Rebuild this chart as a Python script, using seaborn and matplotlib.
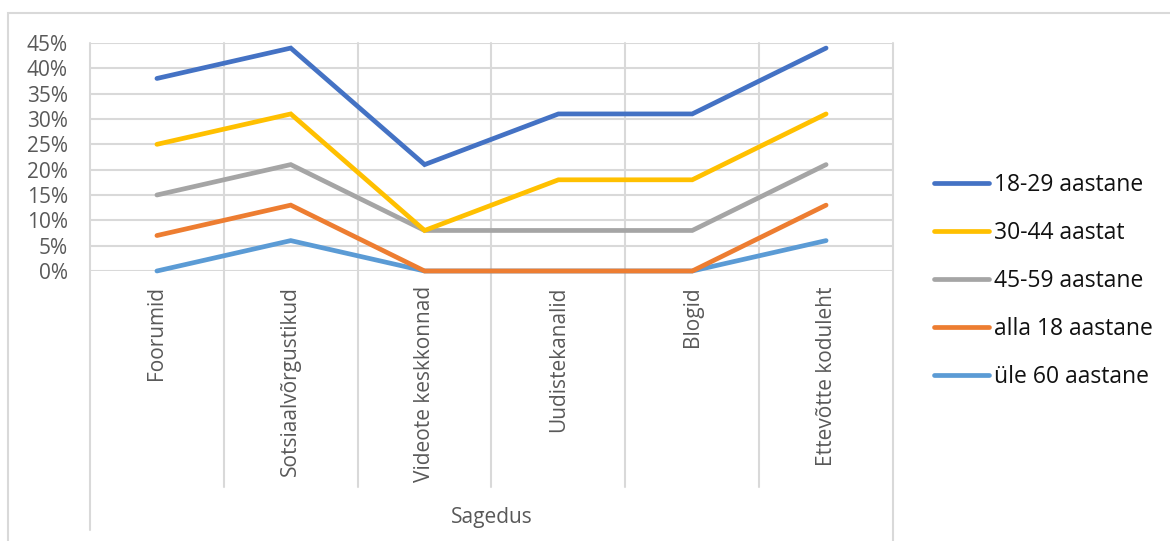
import matplotlib
matplotlib.use("Agg")
import matplotlib.pyplot as plt
import seaborn as sns
import pandas as pd
from matplotlib.patches import Rectangle
from matplotlib.lines import Line2D

categories = ["Foorumid", "Sotsiaalvõrgustikud", "Videote keskkonnad",
              "Uudistekanalid", "Blogid", "Ettevõtte koduleht"]
series_names = ["18-29 aastane", "30-44 aastat", "45-59 aastane",
                "alla 18 aastane", "üle 60 aastane"]
v_18_29 = [0.38, 0.44, 0.21, 0.31, 0.31, 0.44]
v_30_44 = [0.25, 0.31, 0.08, 0.18, 0.18, 0.31]
v_45_59 = [0.15, 0.21, 0.08, 0.08, 0.08, 0.21]
v_alla18 = [0.07, 0.13, 0.00, 0.00, 0.00, 0.13]
v_yle60 = [0.00, 0.06, 0.00, 0.00, 0.00, 0.06]
y_ticks = [0, 0.05, 0.10, 0.15, 0.20, 0.25, 0.30, 0.35, 0.40, 0.45]
y_labels = ["0%", "5%", "10%", "15%", "20%", "25%", "30%", "35%", "40%", "45%"]
colors = ["#4472C4", "#FFC000", "#A5A5A5", "#ED7D31", "#5B9BD5"]
x_title = "Sagedus"

sns.set_theme(style="white")
plt.rcParams["font.family"] = ["Open Sans", "DejaVu Sans"]

rows = []
for name, vals in zip(series_names, [v_18_29, v_30_44, v_45_59, v_alla18, v_yle60]):
    for c, v in zip(categories, vals):
        rows.append({"cat": c, "val": v, "series": name})
df = pd.DataFrame(rows)

W, H = 1170, 541
fig = plt.figure(figsize=(W / 100, H / 100), dpi=100)
fig.patch.set_facecolor("white")
L, R, T, B = 90, 893, 43, 271
ax = fig.add_axes([L / W, (H - B) / H, (R - L) / W, (B - T) / H])

grid_c = "#D9D9D9"
text_c = "#595959"

# outer border
fig.add_artist(Rectangle((8 / W, -0.2), 1.2, 1.2 - 13 / H, transform=fig.transFigure,
                         fill=False, edgecolor=grid_c, lw=1.5))

sns.lineplot(data=df, x="cat", y="val", hue="series", hue_order=series_names,
             palette=colors, sort=False, lw=3.4, ax=ax, legend=False)
for i, ln in enumerate(ax.lines):
    ln.set_clip_on(False)
    ln.set_zorder(10 - i * 0.1)
    ln.set_solid_capstyle("round")
    ln.set_solid_joinstyle("miter")

ax.set_xlim(-0.5, len(categories) - 0.5)
ax.set_ylim(0, 0.45)
ax.set_yticks(y_ticks)
ax.set_yticklabels(y_labels)
ax.set_xticks(range(len(categories)))
ax.set_xticklabels(categories, rotation=90, va="top", ha="center")
ax.tick_params(axis="y", length=0, pad=16, labelsize=15, colors=text_c)
ax.tick_params(axis="x", length=0, pad=11, labelsize=15, colors=text_c)
ax.set_xlabel("")
ax.set_ylabel("")
for sp in ax.spines.values():
    sp.set_visible(False)
for y in y_ticks:
    ax.axhline(y, color=grid_c, lw=1.5, zorder=1)
bottom_sep = -(487 - B) / (B - T)
for k in range(len(categories) + 1):
    x = k - 0.5
    ymin = bottom_sep
    if k == 0:
        ymin = -(530 - B) / (B - T)
    if k == len(categories):
        ymin = -(560 - B) / (B - T)
    ax.axvline(x, ymin=ymin, ymax=1, color=grid_c, lw=1.5, clip_on=False, zorder=1)

handles = [Line2D([0], [0], color=c, lw=3.4, solid_capstyle="round") for c in colors]
fig.legend(handles, series_names, loc="upper left", bbox_to_anchor=(925 / W, 1 - 164 / H),
           frameon=False, fontsize=16.5, handlelength=2.4, handletextpad=0.2,
           labelspacing=1.05, borderaxespad=0, labelcolor="#111111")

fig.text((L + R) / 2 / W, 1 - 518 / H, x_title, ha="center", va="center",
         fontsize=15, color=text_c)

fig.savefig("out.png", dpi=100, facecolor="white")
